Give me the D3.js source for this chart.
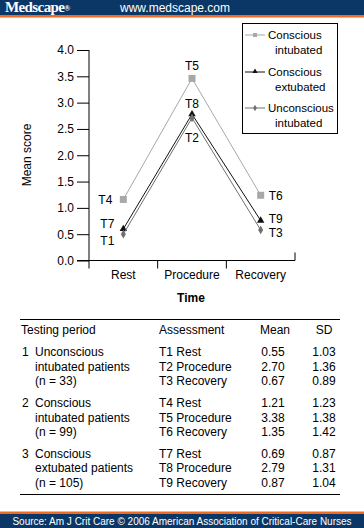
<!DOCTYPE html>
<html><head><meta charset="utf-8">
<script src="https://cdn.jsdelivr.net/npm/d3@7/dist/d3.min.js"></script>
<style>body{margin:0;background:#fff}svg{display:block}text{font-family:"Liberation Sans",Arial,sans-serif}</style>
</head><body>
<script>
const categories = ["Rest", "Procedure", "Recovery"];
const seriesNames = ["Conscious intubated", "Conscious extubated", "Unconscious intubated"];
const consciousIntubated = [1.16, 3.46, 1.24];
const consciousExtubated = [0.60, 2.78, 0.76];
const unconsciousIntubated = [0.50, 2.71, 0.58];
const pointLabels = [["T4","T5","T6"],["T7","T8","T9"],["T1","T2","T3"]];
const yTicks = [0, 0.5, 1, 1.5, 2, 2.5, 3, 3.5, 4];
const tableGroups = [
  {num:"1", lines:["Unconscious","intubated patients","(n = 33)"]},
  {num:"2", lines:["Conscious","intubated patients","(n = 99)"]},
  {num:"3", lines:["Conscious","extubated patients","(n = 105)"]}
];
const assessments = [["T1 Rest","T2 Procedure","T3 Recovery"],["T4 Rest","T5 Procedure","T6 Recovery"],["T7 Rest","T8 Procedure","T9 Recovery"]];
const means = [["0.55","2.70","0.67"],["1.21","3.38","1.35"],["0.69","2.79","0.87"]];
const sds = [["1.03","1.36","0.89"],["1.23","1.38","1.42"],["0.87","1.31","1.04"]];

const W = 364, H = 528;
const svg = d3.select("body").append("svg").attr("width", W).attr("height", H);
const blue = "#0a3766", orange = "#f26a1f";

// header
svg.append("rect").attr("x",0).attr("y",0).attr("width",W).attr("height",15).attr("fill",blue);
svg.append("rect").attr("x",0).attr("y",15).attr("width",W).attr("height",2.5).attr("fill",orange);
svg.append("text").attr("x",5).attr("y",12).attr("fill","#fff").attr("font-size",15).attr("font-weight","bold")
  .style("font-family","'Liberation Serif','Times New Roman',serif").attr("letter-spacing",-0.6).text("Medscape")
  .append("tspan").attr("font-size",8).attr("dy",-1).text("®");
svg.append("text").attr("x",120).attr("y",11.5).attr("fill","#fff").attr("font-size",12).text("www.medscape.com");

// footer
svg.append("rect").attr("x",0).attr("y",511.5).attr("width",W).attr("height",2.5).attr("fill",orange);
svg.append("rect").attr("x",0).attr("y",514).attr("width",W).attr("height",14).attr("fill",blue);
svg.append("text").attr("x",182).attr("y",525).attr("text-anchor","middle").attr("fill","#fff").attr("font-size",10)
  .text("Source: Am J Crit Care © 2006 American Association of Critical-Care Nurses");

// chart
const x = d3.scaleBand().domain(categories).range([89, 295]);
const y = d3.scaleLinear().domain([0, 4]).range([260.5, 50]);
const g = svg.append("g");

// y axis
const yAxis = d3.axisLeft(y).tickValues(yTicks).tickFormat(d3.format(".1f")).tickSize(12).tickPadding(3);
const ya = g.append("g").attr("transform","translate(89,0)").call(yAxis);
ya.select(".domain").remove();
ya.selectAll("line").attr("stroke","#000");
ya.selectAll("text").attr("font-size",12).attr("fill","#000").style("font-family","'Liberation Sans',Arial,sans-serif");
g.append("line").attr("x1",89).attr("x2",89).attr("y1",y(4)).attr("y2",y(0)+8).attr("stroke","#000");
// x axis
g.append("line").attr("x1",77).attr("x2",x.range()[1]).attr("y1",y(0)).attr("y2",y(0)).attr("stroke","#000");
const bounds = categories.map(c => x(c)).concat([x.range()[1]]);
bounds.forEach((b,i) => {
  if (i === 0) return;
  const up = i === bounds.length - 1;
  g.append("line").attr("x1",b).attr("x2",b).attr("y1",y(0)).attr("y2",up ? y(0)-8 : y(0)+8).attr("stroke","#000");
});
categories.forEach(c => {
  g.append("text").attr("x", x(c)+x.bandwidth()/2).attr("y", 279).attr("text-anchor","middle").attr("font-size",12).text(c);
});
g.append("text").attr("x",191).attr("y",302).attr("text-anchor","middle").attr("font-size",12).attr("font-weight","bold").text("Time");
g.append("text").attr("transform","translate(31,155) rotate(-90)").attr("text-anchor","middle").attr("font-size",12).text("Mean score");

const series = [
  {name:seriesNames[0], values:consciousIntubated, color:"#a8a8a8", marker:"square"},
  {name:seriesNames[1], values:consciousExtubated, color:"#111", marker:"triangle"},
  {name:seriesNames[2], values:unconsciousIntubated, color:"#707070", marker:"diamond"}
];
const cx = c => x(c) + x.bandwidth()/2;
const line = d3.line().x((d,i) => cx(categories[i])).y(d => y(d));
function marker(sel, type, px, py, color) {
  if (type === "square") sel.append("rect").attr("x",px-3.5).attr("y",py-3.5).attr("width",7).attr("height",7).attr("fill",color);
  else if (type === "triangle") sel.append("path").attr("d",d3.symbol(d3.symbolTriangle, 24)()).attr("transform",`translate(${px},${py})`).attr("fill",color);
  else sel.append("path").attr("d",d3.symbol(d3.symbolDiamond, 22)()).attr("transform",`translate(${px},${py})`).attr("fill",color);
}
series.forEach(s => {
  g.append("path").datum(s.values).attr("d", line).attr("fill","none").attr("stroke", s.color).attr("stroke-width",1);
  s.values.forEach((v,i) => marker(g, s.marker, cx(categories[i]), y(v), s.color));
});

// point labels
const lab = (t, px, py, anchor) => g.append("text").attr("x",px).attr("y",py).attr("text-anchor",anchor).attr("font-size",12).text(t);
lab(pointLabels[0][0], cx(categories[0])-11, y(consciousIntubated[0])+5, "end");
lab(pointLabels[1][0], cx(categories[0])-9, y(consciousExtubated[0])-1, "end");
lab(pointLabels[2][0], cx(categories[0])-9, y(unconsciousIntubated[0])+11, "end");
lab(pointLabels[0][1], cx(categories[1]), y(consciousIntubated[1])-8, "middle");
lab(pointLabels[1][1], cx(categories[1]), y(consciousExtubated[1])-6, "middle");
lab(pointLabels[2][1], cx(categories[1]), y(unconsciousIntubated[1])+24, "middle");
lab(pointLabels[0][2], cx(categories[2])+8, y(consciousIntubated[2])+5, "start");
lab(pointLabels[1][2], cx(categories[2])+8, y(consciousExtubated[2])+2, "start");
lab(pointLabels[2][2], cx(categories[2])+8, y(unconsciousIntubated[2])+7, "start");

// legend
const lg = svg.append("g");
lg.append("rect").attr("x",242.5).attr("y",23.5).attr("width",95).attr("height",110).attr("fill","#fff").attr("stroke","#000").attr("stroke-width",1);
const legendRows = [["Conscious","intubated"],["Conscious","extubated"],["Unconscious","intubated"]];
const legendY = [35, 72, 108];
series.forEach((s,i) => {
  const ly = legendY[i];
  lg.append("line").attr("x1",245).attr("x2",265).attr("y1",ly).attr("y2",ly).attr("stroke",s.color).attr("stroke-width",1);
  if (s.marker === "square") lg.append("rect").attr("x",253).attr("y",ly-2).attr("width",4).attr("height",4).attr("fill",s.color);
  else if (s.marker === "triangle") lg.append("path").attr("d",d3.symbol(d3.symbolTriangle, 12)()).attr("transform",`translate(255,${ly-0.5})`).attr("fill",s.color);
  else lg.append("path").attr("d",d3.symbol(d3.symbolDiamond, 12)()).attr("transform",`translate(255,${ly})`).attr("fill",s.color);
  lg.append("text").attr("x",268).attr("y",ly+4).attr("font-size",11.5).text(legendRows[i][0]);
  lg.append("text").attr("x",275).attr("y",ly+19).attr("font-size",11.5).text(legendRows[i][1]);
});

// table
const tg = svg.append("g").attr("font-size",12);
tg.append("line").attr("x1",20).attr("x2",340).attr("y1",319.5).attr("y2",319.5).attr("stroke","#000");
tg.append("line").attr("x1",20).attr("x2",340).attr("y1",494.5).attr("y2",494.5).attr("stroke","#000");
tg.append("text").attr("x",21).attr("y",334).text("Testing period");
tg.append("text").attr("x",159).attr("y",334).text("Assessment");
tg.append("text").attr("x",275).attr("y",334).attr("text-anchor","middle").text("Mean");
tg.append("text").attr("x",324).attr("y",334).attr("text-anchor","middle").text("SD");
const groupY = [356, 407, 457.5];
const rowH = 14.5;
tableGroups.forEach((gr, gi) => {
  tg.append("text").attr("x",22).attr("y",groupY[gi]).text(gr.num);
  gr.lines.forEach((t, li) => {
    const yy = groupY[gi] + li*rowH;
    tg.append("text").attr("x",35).attr("y",yy).text(t);
    tg.append("text").attr("x",159).attr("y",yy).text(assessments[gi][li]);
    tg.append("text").attr("x",273).attr("y",yy).attr("text-anchor","middle").text(means[gi][li]);
    tg.append("text").attr("x",324).attr("y",yy).attr("text-anchor","middle").text(sds[gi][li]);
  });
});
</script>
</body></html>
